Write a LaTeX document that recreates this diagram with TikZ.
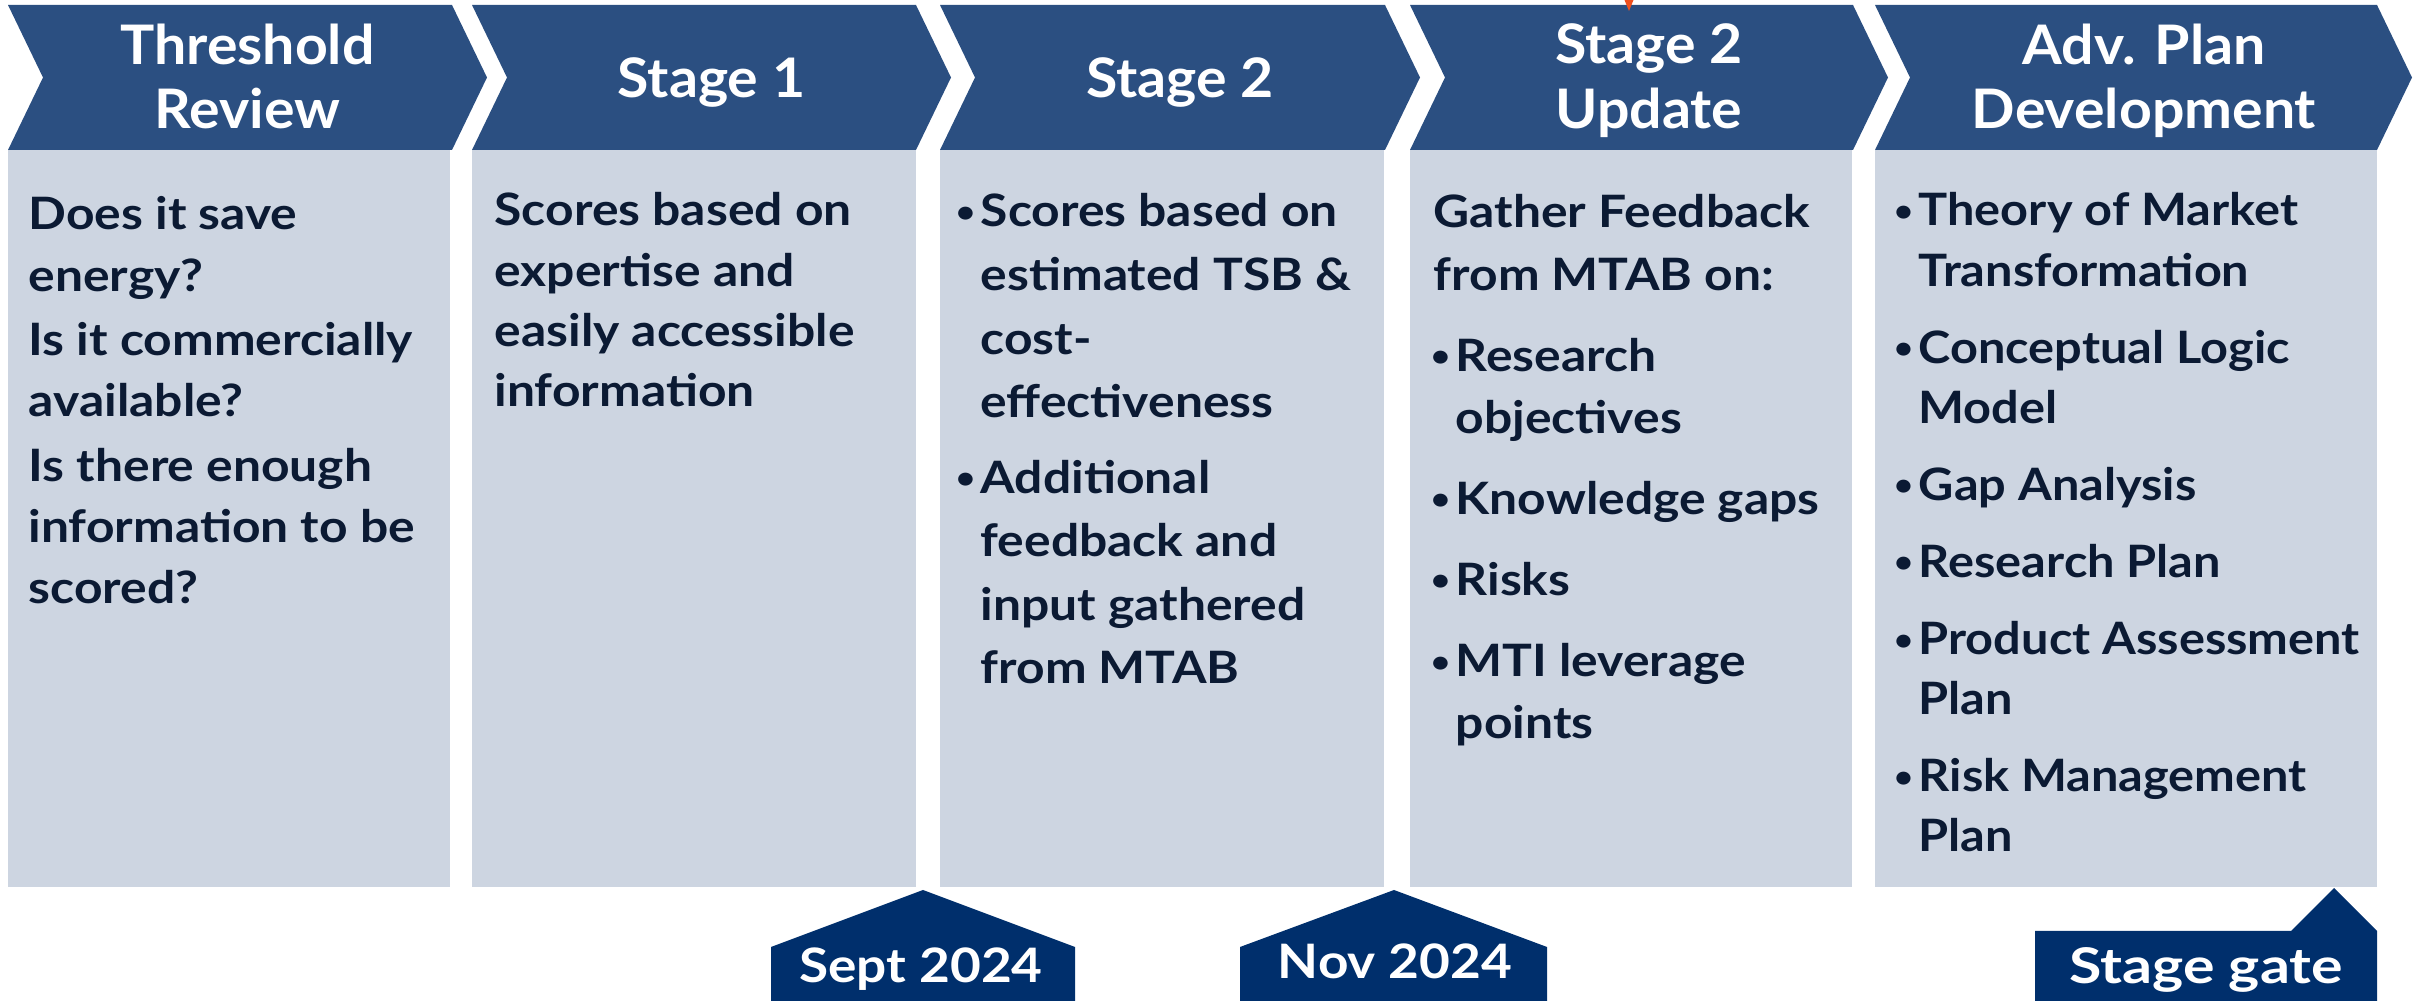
\documentclass[tikz,border=0pt]{standalone}
\usepackage{fontspec}
\setmainfont{Lato}
\newfontfamily\bodyfam{Lato}[FakeStretch=1.115]
\newfontfamily\narrowfam{Lato}[FakeStretch=1.09]
\newfontfamily\hdrfam{Lato}[FakeStretch=1.05]
\newfontfamily\tabfam{Lato}[FakeStretch=1.12]
\newfontfamily\gatefam{Lato}[FakeStretch=1.2]
\definecolor{chev}{RGB}{43,79,129}
\definecolor{panel}{RGB}{205,213,225}
\definecolor{ink}{RGB}{11,26,51}
\definecolor{tabnavy}{RGB}{0,47,108}
\definecolor{markorange}{RGB}{240,80,30}
\newcommand\leftstack[2]{\vtop{\baselineskip=#1\lineskiplimit=-100pt\halign{##\hfil\cr#2\crcr}}}
\newcommand\centerstack[2]{\vtop{\baselineskip=#1\lineskiplimit=-100pt\halign{\hfil##\hfil\cr#2\crcr}}}
\newcommand\bul{\llap{\raisebox{1.2pt}{\fontsize{8.5}{8}\selectfont•}\hskip1.6pt}}
\newcommand\chevronshape[2]{\fill[chev] (#1,5) -- (#2,5) -- ({#2+35},77.5) -- (#2,150) -- (#1,150) -- ({#1+35},77.5) -- cycle;}
\tikzset{
  hdr/.style={inner sep=0pt, anchor=base, text=white, font=\hdrfam\fontsize{15.5}{18}\selectfont\bfseries},
  body/.style={inner sep=0pt, anchor=base west, text=ink, font=\bodyfam\fontsize{12.7}{15}\selectfont\bfseries},
  bodynarrow/.style={body, font=\narrowfam\fontsize{12.7}{15}\selectfont\bfseries},
  tabtext/.style={inner sep=0pt, anchor=base, text=white, font=\tabfam\fontsize{13.5}{16}\selectfont\bfseries},
  gatetext/.style={inner sep=0pt, anchor=base, text=white, font=\gatefam\fontsize{14}{16}\selectfont\bfseries},
  panelbox/.style={fill=panel}
}
\begin{document}
\begin{tikzpicture}[x=0.01cm,y=-0.01cm]
\useasboundingbox (0,0) rectangle (2417,1001);
% panels
\fill[panelbox] (8,150) rectangle (450,887);
\fill[panelbox] (472,150) rectangle (916,887);
\fill[panelbox] (940,150) rectangle (1384,887);
\fill[panelbox] (1410,150) rectangle (1852,887);
\fill[panelbox] (1875,150) rectangle (2377,887);
% chevrons
\chevronshape{8}{452}
\chevronshape{472}{916}
\chevronshape{940}{1385}
\chevronshape{1410}{1853}
\chevronshape{1875}{2377}
% orange marker
\fill[markorange] (1624.5,0) -- (1633.5,0) -- (1629,11) -- cycle;
% headers
\node[hdr] (h1) at (247.5,65) {\centerstack{0.63cm}{Threshold\cr Review}};
\node[hdr] (h2) at (711.5,98) {Stage 1};
\node[hdr] (h3) at (1180,98) {Stage 2};
\node[hdr] (h4) at (1649,64) {\centerstack{0.64cm}{Stage 2\cr Update}};
\node[hdr] (h5) at (2144,65) {\centerstack{0.63cm}{Adv. Plan\cr Development}};
% body texts
\node[body] (t1) at (28,230) {\leftstack{0.61cm}{Does it save\cr energy?\cr\noalign{\vskip0.035cm}Is it commercially\cr available?\cr\noalign{\vskip0.035cm}Is there enough\cr information to be\cr scored?}};
\node[body] (t2) at (494,226) {\leftstack{0.60cm}{Scores based on\cr expertise and\cr easily accessible\cr information}};
\node[body] (t3) at (980,227) {\leftstack{0.635cm}{\bul Scores based on\cr estimated TSB \&\cr cost-\cr effectiveness\cr\noalign{\vskip0.12cm}\bul Additional\cr feedback and\cr input gathered\cr from MTAB}};
\node[body] (t4) at (1433,228) {\leftstack{0.62cm}{Gather Feedback\cr from MTAB on:\cr\noalign{\vskip0.19cm}\hskip0.22cm\bul Research\cr \hskip0.22cm objectives\cr\noalign{\vskip0.19cm}\hskip0.22cm\bul Knowledge gaps\cr\noalign{\vskip0.19cm}\hskip0.22cm\bul Risks\cr\noalign{\vskip0.19cm}\hskip0.22cm\bul MTI leverage\cr \hskip0.22cm points}};
\node[bodynarrow] (t5) at (1918,226) {\leftstack{0.60cm}{\bul Theory of Market\cr Transformation\cr\noalign{\vskip0.17cm}\bul Conceptual Logic\cr Model\cr\noalign{\vskip0.17cm}\bul Gap Analysis\cr\noalign{\vskip0.17cm}\bul Research Plan\cr\noalign{\vskip0.17cm}\bul Product Assessment\cr Plan\cr\noalign{\vskip0.17cm}\bul Risk Management\cr Plan}};
% bottom tabs
\fill[tabnavy] (771,1001) -- (771,947) -- (923,890) -- (1075,947) -- (1075,1001) -- cycle;
\fill[tabnavy] (1240,1001) -- (1240,947) -- (1394,890) -- (1547,947) -- (1547,1001) -- cycle;
\fill[tabnavy] (2035,1001) -- (2035,931) -- (2291,931) -- (2334,888) -- (2377,931) -- (2377,1001) -- cycle;
\node[tabtext] (d1) at (921,983) {Sept 2024};
\node[tabtext] (d2) at (1395,979) {Nov 2024};
\node[gatetext] (d3) at (2206,984) {Stage gate};
\end{tikzpicture}
\end{document}
